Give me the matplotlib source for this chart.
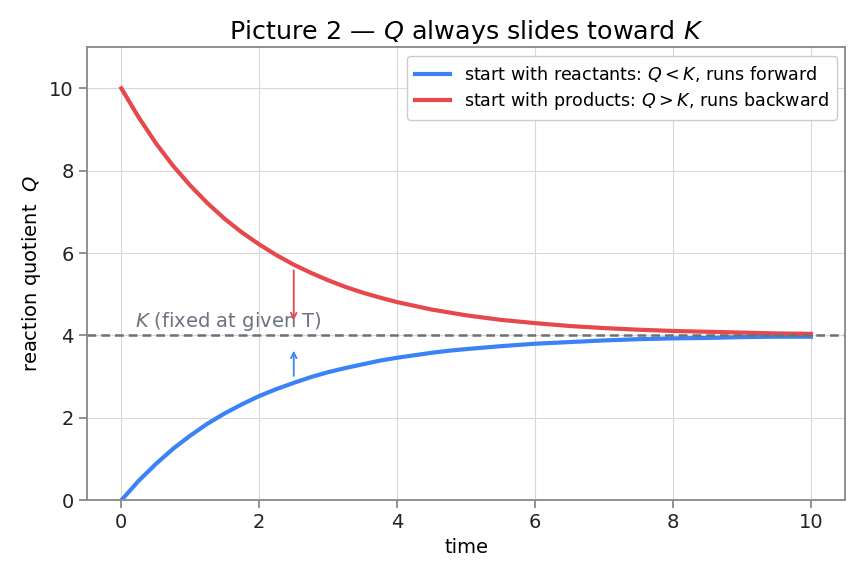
import matplotlib
matplotlib.use("Agg")
from matplotlib import pyplot as plt

# values
time = [0, 0.25, 0.5, 0.75, 1, 1.25, 1.5, 1.75, 2, 2.25, 2.5, 2.75, 3,
        3.25, 3.5, 3.75, 4, 4.25, 4.5, 4.75, 5, 5.5, 6, 6.5, 7, 7.5, 8,
        8.5, 9, 9.5, 10]
q_reactants = [0.0, 0.47, 0.88, 1.25, 1.57, 1.86, 2.11, 2.33, 2.53, 2.70,
               2.85, 2.99, 3.11, 3.21, 3.30, 3.39, 3.46, 3.52, 3.58, 3.63,
               3.67, 3.74, 3.80, 3.84, 3.88, 3.91, 3.93, 3.94, 3.96, 3.97,
               3.97]
q_products = [10.0, 9.30, 8.67, 8.12, 7.64, 7.21, 6.83, 6.50, 6.21, 5.95,
              5.72, 5.52, 5.34, 5.18, 5.04, 4.92, 4.81, 4.72, 4.63, 4.56,
              4.49, 4.38, 4.30, 4.23, 4.18, 4.14, 4.11, 4.09, 4.07, 4.05,
              4.04]
K = 4.0

blue = "#3b82f6"
red = "#e5484d"
grey = "#6b7280"

fig, ax = plt.subplots(figsize=(8.6, 5.75), dpi=100)

ax.plot(time, q_reactants, color=blue, lw=3.0, solid_joinstyle="round",
        label=r"start with reactants: $Q < K$, runs forward")
ax.plot(time, q_products, color=red, lw=3.0, solid_joinstyle="round",
        label=r"start with products: $Q > K$, runs backward")
ax.axhline(K, color="#707070", ls=(0, (3.5, 2)), lw=1.8)
ax.text(0.2, K + 0.2, r"$K$ (fixed at given T)", color=grey, fontsize=14)

ax.annotate("", xy=(2.5, 4.3), xytext=(2.5, 5.65),
            arrowprops=dict(arrowstyle="->", color=red, lw=1.3))
ax.annotate("", xy=(2.5, 3.7), xytext=(2.5, 2.95),
            arrowprops=dict(arrowstyle="->", color=blue, lw=1.3))

ax.set_xlim(-0.5, 10.5)
ax.set_ylim(0, 11)
ax.set_xticks([0, 2, 4, 6, 8, 10])
ax.set_yticks([0, 2, 4, 6, 8, 10])
ax.grid(True, color="#d8d8d8", lw=0.8)
ax.set_axisbelow(True)
for s in ax.spines.values():
    s.set_color("#888888")
    s.set_linewidth(1.3)
ax.tick_params(colors="#888888", labelcolor="#222222", labelsize=14, length=6, width=1.3)

ax.set_xlabel("time", fontsize=14)
ax.set_ylabel(r"reaction quotient  $Q$", fontsize=14)
ax.set_title(r"Picture 2 — $Q$ always slides toward $K$", fontsize=18.3)
ax.legend(loc="upper right", fontsize=12.6, handlelength=2.0, framealpha=1,
          borderpad=0.45, labelspacing=0.35)

fig.subplots_adjust(left=0.101, right=0.983, top=0.918, bottom=0.13)
fig.savefig("out.png")
